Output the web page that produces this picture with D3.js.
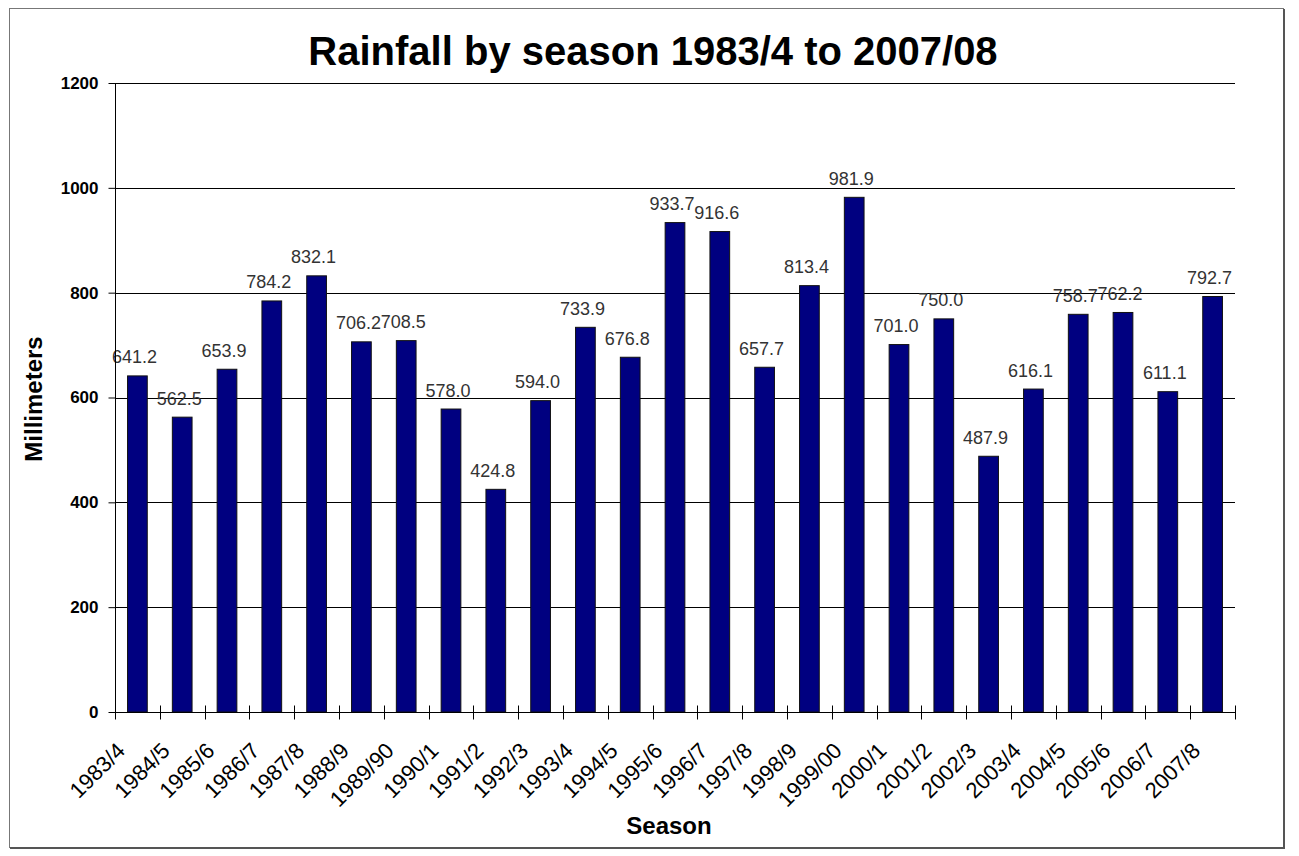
<!DOCTYPE html>
<html>
<head>
<meta charset="utf-8">
<script src="https://cdn.jsdelivr.net/npm/d3@7"></script>
<style>
  html, body { margin: 0; padding: 0; background: #fff; }
  svg { display: block; }
</style>
</head>
<body>
<svg id="chart" width="1299" height="856"></svg>
<script>
const seasons = ["1983/4","1984/5","1985/6","1986/7","1987/8","1988/9","1989/90","1990/1","1991/2","1992/3","1993/4","1994/5","1995/6","1996/7","1997/8","1998/9","1999/00","2000/1","2001/2","2002/3","2003/4","2004/5","2005/6","2006/7","2007/8"];
const rainfall = [641.2,562.5,653.9,784.2,832.1,706.2,708.5,578.0,424.8,594.0,733.9,676.8,933.7,916.6,657.7,813.4,981.9,701.0,750.0,487.9,616.1,758.7,762.2,611.1,792.7];
const yTicks = [0,200,400,600,800,1000,1200];
const titleText = "Rainfall by season 1983/4 to 2007/08";
const xTitle = "Season";
const yTitle = "Millimeters";

const svg = d3.select("#chart");
const plot = {left: 115, right: 1235, top: 83, bottom: 712};

// outer frame
svg.append("rect").attr("x", 9.5).attr("y", 8.5).attr("width", 1274).attr("height", 839)
  .attr("fill", "#fff").attr("stroke", "#777").attr("stroke-width", 1);
svg.append("line").attr("x1", 1284).attr("x2", 1284).attr("y1", 9).attr("y2", 848)
  .attr("stroke", "#555").attr("stroke-width", 2);
svg.append("line").attr("x1", 10).attr("x2", 1285).attr("y1", 848).attr("y2", 848)
  .attr("stroke", "#555").attr("stroke-width", 2);

const x = d3.scaleBand().domain(seasons).range([plot.left, plot.right]).paddingInner(0.56).paddingOuter(0.28);
const y = d3.scaleLinear().domain([0, 1200]).range([plot.bottom, plot.top]);

// gridlines
svg.append("g").selectAll("line").data(yTicks.filter(d => d > 0)).join("line")
  .attr("x1", plot.left).attr("x2", plot.right)
  .attr("y1", d => Math.round(y(d)) + 0.5).attr("y2", d => Math.round(y(d)) + 0.5)
  .attr("stroke", "#000").attr("stroke-width", 1);

// bars
svg.append("g").selectAll("rect").data(rainfall).join("rect")
  .attr("x", (d, i) => x(seasons[i]))
  .attr("y", d => y(d))
  .attr("width", x.bandwidth())
  .attr("height", d => plot.bottom - y(d))
  .attr("fill", "#000080")
  .attr("stroke", "#111")
  .attr("stroke-width", 1);

// data labels
svg.append("g").selectAll("text").data(rainfall).join("text")
  .attr("x", (d, i) => x(seasons[i]) + x.bandwidth() / 2 - 3)
  .attr("y", d => y(d) - 12.5)
  .attr("text-anchor", "middle")
  .attr("font-family", "'Liberation Sans Narrow', 'Arial Narrow', sans-serif")
  .attr("font-stretch", "condensed")
  .attr("font-size", 18)
  .attr("fill", "#333")
  .text(d => d.toFixed(1));

// y axis
const yAxis = d3.axisLeft(y).tickValues(yTicks).tickSize(7).tickPadding(10).tickFormat(d3.format("d"));
const gy = svg.append("g").attr("transform", `translate(${plot.left + 0.5},0)`).call(yAxis);
gy.select(".domain").attr("stroke", "#000").attr("d", `M0,${plot.top}V${plot.bottom}`);
gy.selectAll(".tick line").attr("stroke", "#000");
gy.selectAll(".tick text").attr("font-family", "Arial, 'Liberation Sans', sans-serif")
  .attr("font-weight", "bold").attr("font-size", 17).attr("fill", "#000");

// x axis
const xPoint = d3.scalePoint().domain(d3.range(seasons.length + 1)).range([plot.left, plot.right]);
const gx = svg.append("g").attr("transform", `translate(0,${plot.bottom + 0.5})`);
gx.append("line").attr("x1", plot.left).attr("x2", plot.right).attr("stroke", "#000");
gx.selectAll("line.tk").data(xPoint.domain()).join("line").attr("class", "tk")
  .attr("x1", d => Math.round(xPoint(d)) + 0.5).attr("x2", d => Math.round(xPoint(d)) + 0.5)
  .attr("y1", -7).attr("y2", 7).attr("stroke", "#000");

svg.append("g").selectAll("text").data(seasons).join("text")
  .attr("transform", d => `translate(${x(d) + x.bandwidth() / 2 - 11},${plot.bottom + 40}) rotate(-45)`)
  .attr("text-anchor", "end")
  .attr("font-family", "Arial, 'Liberation Sans', sans-serif")
  .attr("font-size", 22)
  .attr("fill", "#000")
  .text(d => d);

// titles
svg.append("text").attr("x", 653).attr("y", 65).attr("text-anchor", "middle")
  .attr("font-family", "Arial, 'Liberation Sans', sans-serif").attr("font-weight", "bold")
  .attr("font-size", 40).attr("fill", "#000").text(titleText);

svg.append("text").attr("x", 669).attr("y", 834).attr("text-anchor", "middle")
  .attr("font-family", "Arial, 'Liberation Sans', sans-serif").attr("font-weight", "bold")
  .attr("font-size", 24).attr("fill", "#000").text(xTitle);

svg.append("text").attr("transform", "translate(42,399) rotate(-90)").attr("text-anchor", "middle")
  .attr("font-family", "Arial, 'Liberation Sans', sans-serif").attr("font-weight", "bold")
  .attr("font-size", 24).attr("fill", "#000").text(yTitle);
</script>
</body>
</html>
